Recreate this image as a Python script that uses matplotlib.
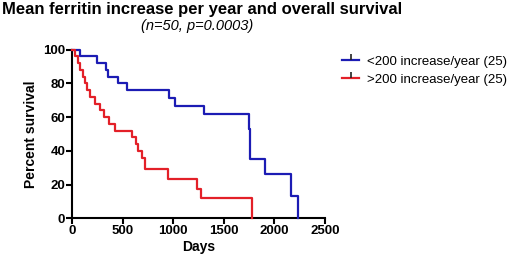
import numpy as np
import matplotlib.pyplot as plt
from matplotlib.lines import Line2D

plt.rcParams['font.family'] = ['Liberation Sans', 'DejaVu Sans']

# Kaplan-Meier steps (days, percent survival)
low_days = [0, 80, 240, 330, 355, 450, 545, 960, 1020, 1300, 1745, 1760, 1910, 2165, 2230]
low_surv = [100, 96, 92, 88, 84, 80, 76, 71.4, 66.7, 61.9, 52.8, 35.2, 26.3, 13.0, 0]

high_days = [0, 30, 55, 80, 105, 130, 150, 175, 220, 270, 310, 360, 425, 590, 630, 655, 690,
             720, 945, 1230, 1270, 1780]
high_surv = [100, 96, 92, 88, 84, 80, 76, 72, 68, 64, 60, 56, 52, 48, 44, 40, 36,
             29.4, 23.5, 17.6, 11.8, 0]

labels = ['<200 increase/year (25)', '>200 increase/year (25)']
colors = ['#1c1cb4', '#e32028']

fig = plt.figure(figsize=(5.2, 2.59), dpi=100)
ax = fig.add_axes([0.139, 0.157, 0.486, 0.651])

for d, s, c in [(low_days, low_surv, colors[0]), (high_days, high_surv, colors[1])]:
    ax.step(d, s, where='post', color=c, lw=1.6, clip_on=False, zorder=3)

ax.set_xlim(0, 2500)
ax.set_ylim(0, 100)
ax.set_xticks(range(0, 2501, 500))
ax.set_yticks(range(0, 101, 20))
for sp in ['top', 'right']:
    ax.spines[sp].set_visible(False)
for sp in ['left', 'bottom']:
    ax.spines[sp].set_linewidth(1.5)
ax.tick_params(direction='out', length=4, width=1.5, labelsize=9.5, pad=1)
for t in ax.get_xticklabels() + ax.get_yticklabels():
    t.set_fontweight('bold')

ax.set_xlabel('Days', fontsize=10, fontweight='bold', labelpad=2)
ax.set_ylabel('Percent survival', fontsize=10, fontweight='bold', labelpad=4)

fig.text(0.004, 0.945, 'Mean ferritin increase per year and overall survival',
         fontsize=12, fontweight='bold', ha='left', va='baseline')
fig.text(0.38, 0.885, '(n=50, p=0.0003)', fontsize=10.5, style='italic',
         ha='center', va='baseline')

handles = [Line2D([], [], color=c, lw=1.6, marker=2, markersize=4,
                  markeredgecolor='#222222', markeredgewidth=1.2) for c in colors]
ax.legend(handles, labels, loc='upper left', bbox_to_anchor=(0.657, 0.785),
          bbox_transform=fig.transFigure, frameon=False, fontsize=9.5,
          handlelength=1.35, handletextpad=0.55, labelspacing=0.45, numpoints=1,
          borderaxespad=0, borderpad=0)

plt.savefig('out.png', dpi=100)
